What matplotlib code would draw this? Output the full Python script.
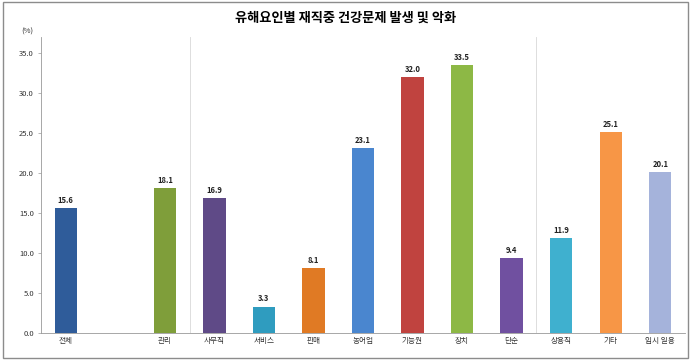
import matplotlib.pyplot as plt
import numpy as np

plt.rcParams['font.family'] = ['Noto Sans CJK KR', 'DejaVu Sans']

title = '유해요인별 재직중 건강문제 발생 및 악화'
categories = ['전체', '', '관리', '사무직', '서비스', '판매', '농어업', '기능원',
              '장치', '단순', '상용직', '기타', '임시 일용']
values = [15.6, np.nan, 18.1, 16.9, 3.3, 8.1, 23.1, 32.0, 33.5, 9.4, 11.9, 25.1, 20.1]
colors = ['#2F5C9A', '#C0504D', '#7F9E3A', '#5F4A87', '#2F9CBF', '#E07A24',
          '#4A86CF', '#C0433F', '#8DB845', '#7050A0', '#3FB0CF', '#F79646', '#A5B3DB']
yticks = [0, 5, 10, 15, 20, 25, 30, 35]

fig = plt.figure(figsize=(6.91, 3.6), dpi=100)
ax = fig.add_axes([41 / 691, 27 / 360, 644 / 691, 296 / 360])

x = np.arange(len(categories))
bars = ax.bar(x, np.nan_to_num(values), width=0.45, color=colors, zorder=2)
for xi, v in zip(x, values):
    if not np.isnan(v):
        ax.text(xi, v + 0.4, f'{v:.1f}', ha='center', va='bottom',
                fontsize=5.5, fontweight='bold', color='#222222')

# group separators
for sx in [2.5, 9.5]:
    ax.axvline(sx, color='#d8d8d8', lw=0.6, zorder=1)

ax.set_xlim(-0.5, len(categories) - 0.5)
ax.set_ylim(0, 37)
ax.set_yticks(yticks)
ax.set_yticklabels([f'{t:.1f}' for t in yticks], fontsize=5.5, color='#333333')
ax.set_xticks(x)
ax.set_xticklabels(categories, fontsize=5.5, color='#333333')
ax.tick_params(axis='x', length=0, pad=3)
ax.tick_params(axis='y', length=2, width=0.5, color='#999999', pad=3)
for side in ['top', 'right']:
    ax.spines[side].set_visible(False)
for side in ['left', 'bottom']:
    ax.spines[side].set_color('#999999')
    ax.spines[side].set_linewidth(0.6)

fig.text(27 / 691, 1 - 32 / 360, '(%)', ha='center', va='center', fontsize=5.5, color='#333333')
fig.text(0.5, 1 - 18 / 360, title, ha='center', va='center', fontsize=9.5, fontweight='bold')

# outer frame
fig.patches.append(plt.Rectangle((0.004, 0.006), 0.992, 0.988, transform=fig.transFigure,
                                 fill=False, edgecolor='#8c8c8c', lw=1.0))

fig.savefig('out.png', dpi=100)
